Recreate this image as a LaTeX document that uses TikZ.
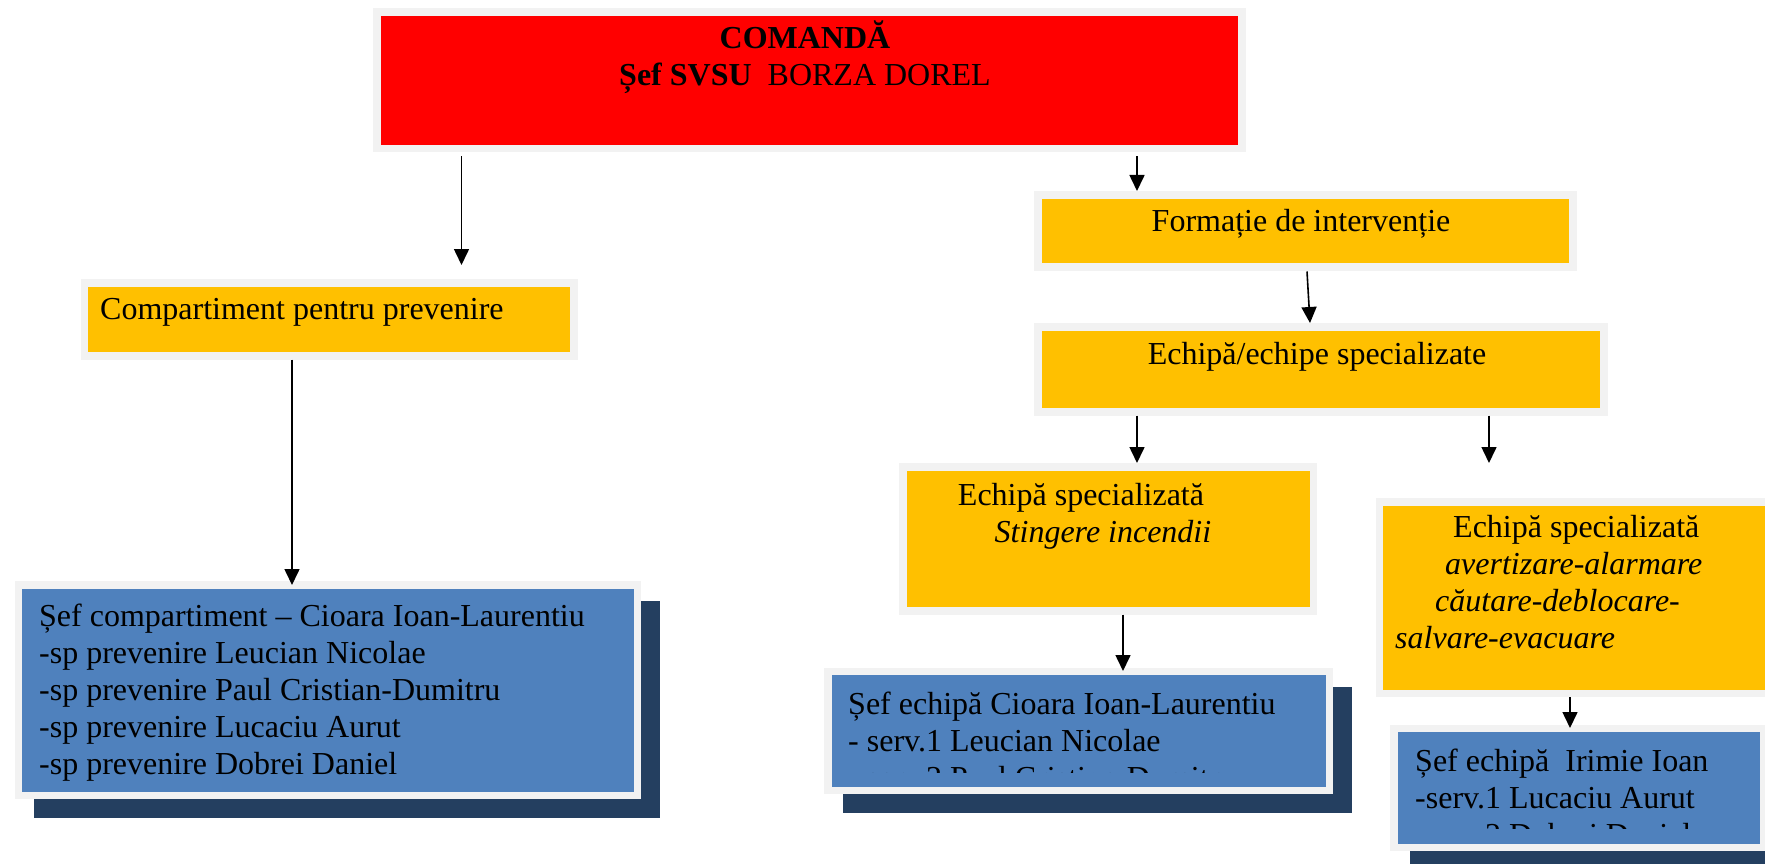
\documentclass[tikz,border=0pt]{standalone}
\usepackage{fontspec}
\setmainfont{Liberation Serif}
\usetikzlibrary{arrows.meta}
\definecolor{cred}{HTML}{FF0000}
\definecolor{corange}{HTML}{FFC000}
\definecolor{cblue}{HTML}{4F81BD}
\definecolor{cshadow}{HTML}{243F60}
\definecolor{cframe}{HTML}{F2F2F2}
\newcommand\tstrut{\rule{0pt}{30pt}}
\begin{document}
\begin{tikzpicture}[x=1pt,y=-1pt,
  box/.style={draw=cframe, line width=7.5pt, inner sep=0pt, anchor=north west},
  shadowbox/.style={fill=cshadow, draw=none, inner sep=0pt, anchor=north west},
  txt/.style={inner sep=0pt, font=\fontsize{32}{37}\selectfont},
  arr/.style={line width=1.6pt, -{Triangle[width=15pt,length=16pt]}},
]
\useasboundingbox[fill=white] (0,0) rectangle (1765,864);

% shadows
\node[shadowbox, minimum width=626pt, minimum height=217pt] (ls) at (34,601) {};
\node[shadowbox, minimum width=509pt, minimum height=126pt] (ms) at (843,687) {};
\node[shadowbox, minimum width=370pt, minimum height=130pt] (rs) at (1410,745) {};

% boxes
\node[box, fill=cred, minimum width=865pt, minimum height=136.5pt] (red) at (373,8.5) {};
\node[box, fill=corange, minimum width=535pt, minimum height=72pt] (fi) at (1034,191) {};
\node[box, fill=corange, minimum width=566pt, minimum height=85pt] (ee) at (1034,323) {};
\node[box, fill=corange, minimum width=410.5pt, minimum height=144pt] (st) at (899,463) {};
\node[box, fill=corange, minimum width=394.5pt, minimum height=191.5pt] (ro) at (1375.5,498) {};
\node[box, fill=corange, minimum width=489.5pt, minimum height=73pt] (cpp) at (80.5,279) {};
\node[box, fill=cblue, minimum width=619pt, minimum height=210.5pt] (lb) at (14.5,581) {};
\node[box, fill=cblue, minimum width=501.5pt, minimum height=119pt] (mb) at (824,667.5) {};
\node[box, fill=cblue, minimum width=369.5pt, minimum height=119pt] (rb) at (1390,724.5) {};

% texts
\node[txt, anchor=north, align=center] (redt) at (805,18)
  {\tstrut\textbf{COMANDĂ}\\\textbf{Șef SVSU}\ \ BORZA DOREL};
\node[txt, anchor=north] (fit) at (1301,201) {\tstrut Formație de intervenție};
\node[txt, anchor=north] (eet) at (1317,334) {\tstrut Echipă/echipe specializate};
\node[txt, anchor=north, align=center] (stt) at (1081,475)
  {\tstrut Echipă specializată\\\hspace*{44pt}\textit{Stingere incendii}};
\node[txt, anchor=north west, align=left] (rot) at (1395,507)
  {\tstrut\hspace*{58pt}Echipă specializată\\
   \hspace*{50pt}\textit{avertizare-alarmare}\\
   \hspace*{40pt}\textit{căutare-deblocare-}\\
   \textit{salvare-evacuare}};
\node[txt, anchor=north west] (cppt) at (100,289) {\tstrut Compartiment pentru prevenire};
\node[txt, anchor=north west, align=left] (lbt) at (39,596)
  {\tstrut Șef compartiment – Cioara Ioan-Laurentiu\\
   -sp prevenire Leucian Nicolae\\
   -sp prevenire Paul Cristian-Dumitru\\
   -sp prevenire Lucaciu Aurut\\
   -sp prevenire Dobrei Daniel};
\begin{scope}
  \clip (828,671) rectangle (1322,772);
  \node[txt, anchor=north west, align=left] (mbt) at (848,684)
    {\tstrut Șef echipă Cioara Ioan-Laurentiu\\
     - serv.1 Leucian Nicolae\\
     - serv.2 Paul Cristian-Dumitru};
\end{scope}
\begin{scope}
  \clip (1394,728) rectangle (1753,828);
  \node[txt, anchor=north west, align=left] (rbt) at (1415,741)
    {\tstrut Șef echipă\ \ Irimie Ioan\\
     -serv.1 Lucaciu Aurut\\
     -serv.2 Dobrei Daniel};
\end{scope}

% connectors
\draw[arr] ([xshift=88.5pt,yshift=-3.75pt]red.south west) -- ([xshift=381pt,yshift=14pt]cpp.north west);
\draw[arr] ([xshift=764pt,yshift=-3.75pt]red.south west) -- ([xshift=103pt]fi.north west);
\draw[arr] ([xshift=273pt,yshift=-1pt]fi.south west) -- ([xshift=276pt]ee.north west);
\draw[arr] ([xshift=103pt]ee.south west) -- ([xshift=238pt]st.north west);
\draw[arr] ([xshift=455pt]ee.south west) -- ([xshift=113.5pt,yshift=35pt]ro.north west);
\draw[arr] ([xshift=224pt]st.south west) -- ([xshift=299pt,yshift=-3.5pt]mb.north west);
\draw[arr] ([xshift=194.5pt]ro.south west) -- ([xshift=180pt,yshift=-3.5pt]rb.north west);
\draw[arr] ([xshift=211.5pt]cpp.south west) -- ([xshift=277.5pt,yshift=-4pt]lb.north west);
\end{tikzpicture}
\end{document}
